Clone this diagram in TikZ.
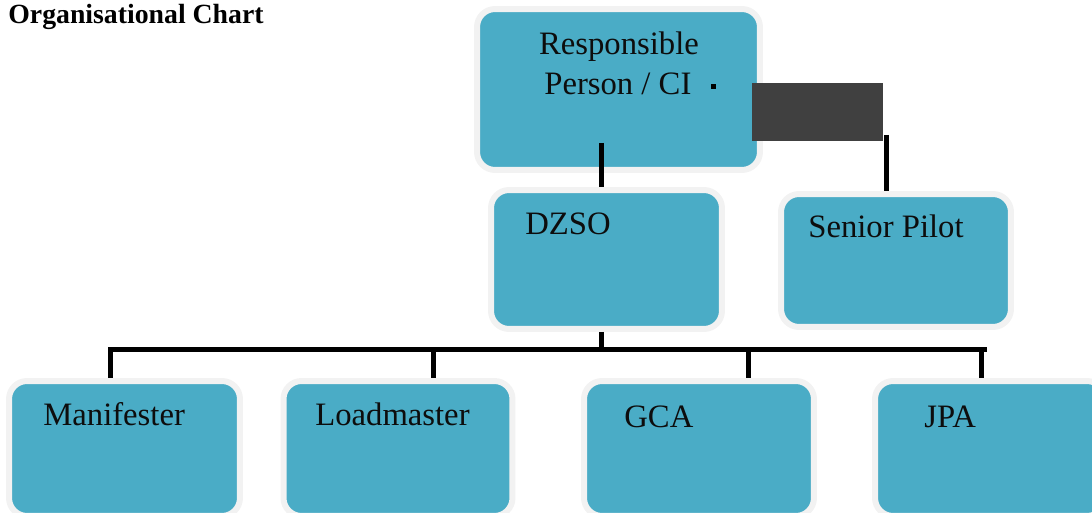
\documentclass[tikz,border=0pt]{standalone}
\usepackage{fontspec}
\setmainfont{Liberation Serif}
\usepackage{tikz}

\definecolor{boxblue}{RGB}{74,172,198}
\definecolor{boxrim}{RGB}{242,242,242}
\definecolor{darkpatch}{RGB}{64,64,64}

\tikzset{
	box/.style={rectangle,rounded corners=0.36cm,fill=boxblue,draw=boxrim,line width=0.12cm,inner sep=0pt},
	boxtext/.style={anchor=base west,inner sep=0pt,text=black!95,font=\fontsize{18.6}{22}\selectfont},
	conn/.style={line width=0.1cm,black}
}

\begin{document}
\begin{tikzpicture}[x=0.02cm,y=-0.02cm]
	\useasboundingbox (0,0) rectangle (1092,513);
	\clip (0,0) rectangle (1092,513);
	
	%TITLE
	\node[anchor=base west,inner sep=0pt,font=\fontsize{15.8}{18}\selectfont\bfseries] (title) at (8,24) {Organisational Chart};
	
	%BOXES (path sits 3px outside the blue)
	\node[box,minimum width=5.66cm,minimum height=3.22cm] (resp) at (618.5,89.5) {};		%top
	\node[box,minimum width=4.62cm,minimum height=2.78cm] (dzso) at (606.5,259.5) {};		%middle, left
	\node[box,minimum width=4.6cm,minimum height=2.66cm] (pilot) at (896,260.5) {};		%middle, right
	\node[box,minimum width=4.62cm,minimum height=2.7cm] (man) at (124.5,448.5) {};		%bottom row
	\node[box,minimum width=4.58cm,minimum height=2.7cm] (load) at (398,448.5) {};
	\node[box,minimum width=4.6cm,minimum height=2.7cm] (gca) at (699,448.5) {};
	\node[box,minimum width=4.6cm,minimum height=2.7cm] (jpa) at (990,448.5) {};
	
	%LABELS
	\node[boxtext,anchor=base] (resp-t1) at (619,55) {Responsible};
	\node[boxtext] (resp-t2) at (544,95) {Person / CI};
	\node[boxtext] (dzso-t) at (525,235) {DZSO};
	\node[boxtext] (pilot-t) at (808,238) {Senior Pilot};
	\node[boxtext] (man-t) at (43,425) {Manifester};
	\node[boxtext] (load-t) at (315,425) {Loadmaster};
	\node[boxtext] (gca-t) at (624,427) {GCA};
	\node[boxtext] (jpa-t) at (924,427) {JPA};
	
	%UPPER LINKS
	\fill[black] (711,84) rectangle (716,89);				%dot
	\fill[darkpatch] (752,83) rectangle (883,141);			%dark patch
	\coordinate (stem) at (601,143);
	\draw[conn] (stem) -- (stem |- dzso.north);
	\coordinate (stemR) at (886,135);
	\draw[conn] (stemR) -- (stemR |- pilot.north);
	
	%BUS
	\coordinate (busL) at (108,349);
	\coordinate (busR) at (987,349);
	\draw[conn] (busL) -- (busR);
	\draw[conn] (601,0 |- dzso.south) -- (601,0 |- busL);
	\foreach \n/\x in {man/110,load/433,gca/748,jpa/981}
		\draw[conn] (\x,0 |- busL) -- (\x,0 |- \n.north);
\end{tikzpicture}
\end{document}
